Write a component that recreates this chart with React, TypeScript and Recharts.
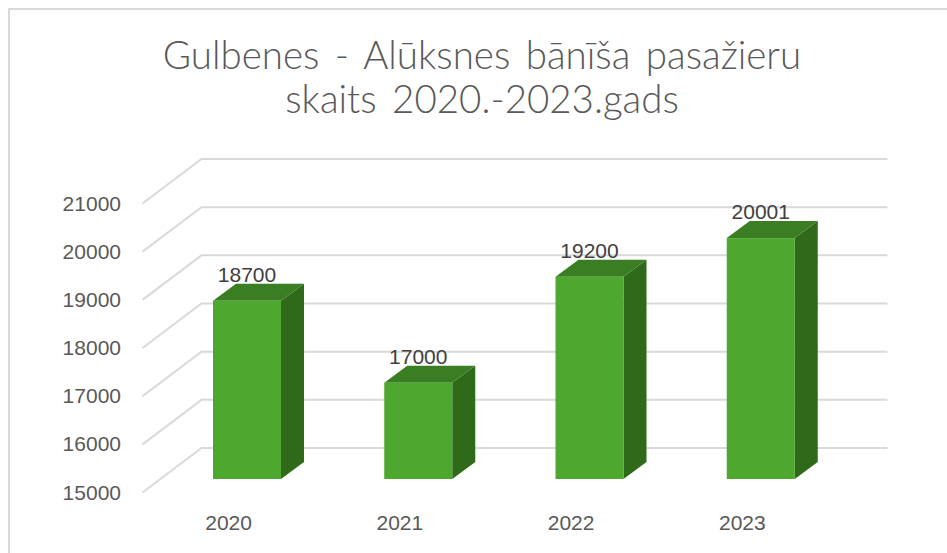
import React from 'react';
import { BarChart, Bar, XAxis, YAxis, CartesianGrid, LabelList } from 'recharts';

const titleLines = ['Gulbenes - Alūksnes bānīša pasažieru', 'skaits 2020.-2023.gads'];
const years = ['2020', '2021', '2022', '2023'];
const passengers = [18700, 17000, 19200, 20001];
const yTicks = [15000, 16000, 17000, 18000, 19000, 20000, 21000];

const chartData = years.map((year, i) => ({ year, passengers: passengers[i] }));

const GRID_COLOR = '#d9d9d9';
const FRONT_COLOR = '#4ea72e';
const TOP_COLOR = '#3b7d23';
const SIDE_COLOR = '#2f6a1b';

// 3D look: how far the bar depth and the floor/wall are pushed
const BAR_DEPTH_X = 23;
const BAR_DEPTH_Y = 17;

// Grid line = short diagonal on the side wall + long line on the back wall
const GridLine = (props: any) => {
  const { x1, y1, key } = props;
  const frontX = x1 - 18.5;
  const frontY = y1 + 13.5;
  const backX = x1 + 40.5;
  const backY = y1 - 31;
  return (
    <polyline
      key={key}
      points={`${frontX},${frontY} ${backX},${backY} ${backX + 686},${backY}`}
      fill="none"
      stroke={GRID_COLOR}
      strokeWidth={2}
    />
  );
};

// Box shaped bar
const Bar3D = ({ x, y, width, height }: any) => {
  const right = x + width;
  const bottom = y + height;
  return (
    <g>
      <polygon
        points={`${right},${y} ${right + BAR_DEPTH_X},${y - BAR_DEPTH_Y} ${right + BAR_DEPTH_X},${bottom - BAR_DEPTH_Y} ${right},${bottom}`}
        fill={SIDE_COLOR}
      />
      <polygon
        points={`${x},${y} ${x + BAR_DEPTH_X},${y - BAR_DEPTH_Y} ${right + BAR_DEPTH_X},${y - BAR_DEPTH_Y} ${right},${y}`}
        fill={TOP_COLOR}
      />
      <rect x={x} y={y} width={width} height={height} fill={FRONT_COLOR} />
    </g>
  );
};

const YTick = ({ y, payload }: any) => (
  <text x={121} y={y + 20.5} textAnchor="end" fontSize={21} fill="#595959">
    {payload.value}
  </text>
);

const XTick = ({ x, y, payload }: any) => (
  <text x={x - 18} y={y + 43} textAnchor="middle" fontSize={21} fill="#595959">
    {payload.value}
  </text>
);

export default function App() {
  return (
    <div style={{ position: 'absolute', left: 0, top: 0, width: 947, height: 553, overflow: 'hidden', fontFamily: '"Liberation Sans", sans-serif' }}>
      <div
        style={{
          position: 'absolute',
          left: 8,
          top: 8,
          width: 939,
          height: 545,
          boxSizing: 'border-box',
          borderLeft: `2px solid ${GRID_COLOR}`,
          borderTop: `2px solid ${GRID_COLOR}`,
        }}
      />
      <div
        style={{
          position: 'absolute',
          left: 0,
          width: 964,
          top: 32,
          textAlign: 'center',
          fontFamily: 'Lato, sans-serif',
          fontWeight: 300,
          fontSize: 38.5,
          wordSpacing: 5,
          lineHeight: '44px',
          color: '#595959',
        }}
      >
        {titleLines.map((line) => (
          <div key={line}>{line}</div>
        ))}
      </div>
      <div style={{ position: 'absolute', left: 0, top: 0 }}>
        <BarChart
          width={947}
          height={553}
          data={chartData}
          margin={{ top: 190, right: 101, bottom: 0, left: 0 }}
        >
          <CartesianGrid horizontal={GridLine} vertical={false} />
          <XAxis dataKey="year" axisLine={false} tickLine={false} tick={XTick} height={74} />
          <YAxis
            domain={[15000, 21000]}
            ticks={yTicks}
            axisLine={false}
            tickLine={false}
            tick={YTick}
            width={161}
            interval={0}
          />
          <Bar dataKey="passengers" barSize={68} shape={Bar3D} isAnimationActive={false}>
            <LabelList dataKey="passengers" position="top" offset={19} fontSize={21} fill="#404040" />
          </Bar>
        </BarChart>
      </div>
    </div>
  );
}
